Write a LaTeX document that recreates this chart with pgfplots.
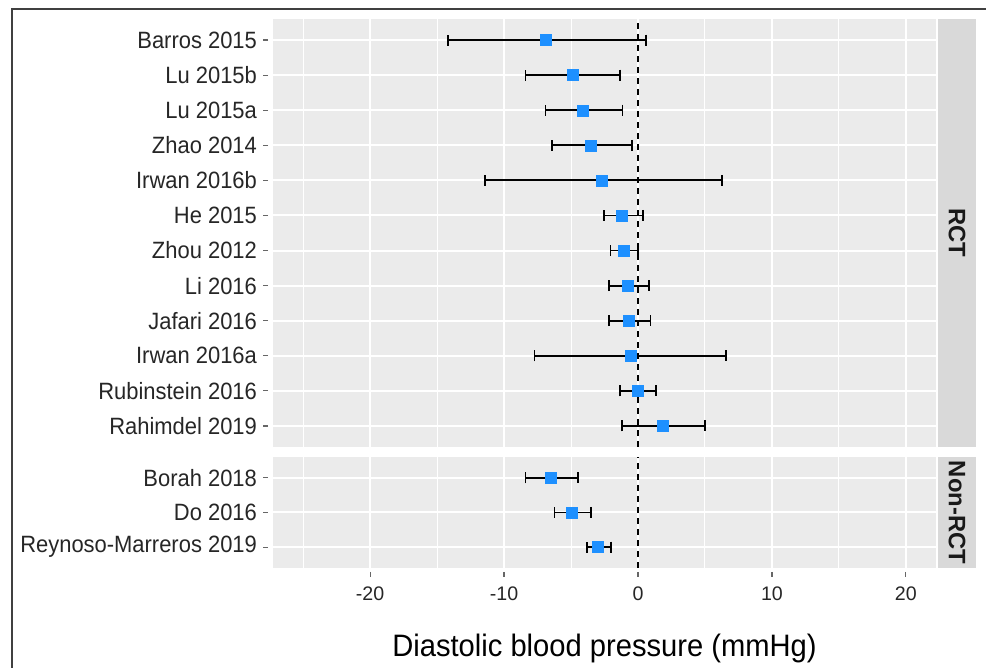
\documentclass[border=0pt]{standalone}
\usepackage{pgfplots}
\pgfplotsset{compat=1.18}
\usepackage{pgfplotstable}
\usepackage{fontspec}
\setmainfont{Liberation Sans}

\definecolor{panelbg}{HTML}{EBEBEB}
\definecolor{stripbg}{HTML}{D9D9D9}
\definecolor{ptblue}{RGB}{30,144,255}
\newcommand\sq[1]{\scalebox{0.93}[1]{#1}}
\tikzset{tk/.style={black!60, line width=0.6pt}}

% row = position from bottom, est = mean difference, lo/hi = 95% CI
\pgfplotstableread{
row est lo hi
12 -6.90 -14.20 0.60
11 -4.90 -8.40 -1.35
10 -4.10 -6.90 -1.15
9 -3.50 -6.45 -0.47
8 -2.68 -11.40 6.27
7 -1.18 -2.53 0.35
6 -1.10 -2.05 0.03
5 -0.80 -2.18 0.80
4 -0.70 -2.15 0.93
3 -0.55 -7.72 6.60
2 0.00 -1.35 1.33
1 1.85 -1.17 4.98
}\rctdata

\pgfplotstableread{
row est lo hi
3 -6.50 -8.40 -4.45
2 -4.94 -6.24 -3.53
1 -2.98 -3.80 -2.03
}\nonrctdata

\pgfplotsset{
  forest/.style={
    scale only axis, width=331.5pt, clip=false,
    xmin=-27.25, xmax=22.25, ymin=0.4,
    xtick={-20,-10,0,10,20},
    minor xtick={-25,-15,-5,5,15},
    grid=both,
    major grid style={white, line width=1pt},
    minor grid style={white, line width=0.5pt},
    axis background/.style={fill=panelbg},
    axis line style={draw=none},
    tick pos=left, tick align=outside,
    major tick length=0pt, minor tick length=0pt,
    yticklabel style={font=\fontsize{11.8}{12}\selectfont, text=black!85, xshift=-4.5pt},
    xticklabel style={font=\fontsize{9.8}{10}\selectfont, text=black!85, yshift=-6pt},
  },
  ci/.style={only marks, mark=none,
    error bars/.cd, x dir=both, x explicit, error mark=|,
    error bar style={black, line width=0.9pt},
    error mark options={black, line width=0.9pt, mark size=2.75pt}},
  pt/.style={only marks, mark=square*, mark size=2.75pt,
    mark options={fill=ptblue, draw=ptblue, line width=0.2pt}},
  zero/.style={black, line width=0.8pt, dash pattern=on 3pt off 2.5pt},
}

\begin{document}
\begin{tikzpicture}[x=1pt, y=1pt]
\useasboundingbox (0,0) rectangle (493,334);
\draw[black!75, line width=0.8pt] (6,0) -- (6,329.5) -- (493,329.5);

\begin{axis}[forest, at={(136.5pt,110.5pt)}, anchor=south west,
    height=214pt, ymax=12.6,
    ytick={1,...,12},
    yticklabels={\sq{Rahimdel 2019},\sq{Rubinstein 2016},\sq{Irwan 2016a},\sq{Jafari 2016},
      \sq{Li 2016},\sq{Zhou 2012},\sq{He 2015},\sq{Irwan 2016b},\sq{Zhao 2014},
      \sq{Lu 2015a},\sq{Lu 2015b},\sq{Barros 2015}},
    xticklabels={}]
  \addplot[zero] coordinates {(0,0.4) (0,12.6)};
  \addplot[ci] table[x=est, y=row,
    x error plus expr=\thisrow{hi}-\thisrow{est},
    x error minus expr=\thisrow{est}-\thisrow{lo}] {\rctdata};
  \addplot[pt] table[x=est, y=row] {\rctdata};
  \pgfplotsinvokeforeach{1,...,12}{
    \draw[tk] ([xshift=-2.5pt]axis cs:-27.25,#1) -- ([xshift=-5pt]axis cs:-27.25,#1);}
\end{axis}

\begin{axis}[forest, at={(136.5pt,50pt)}, anchor=south west,
    height=55.5pt, ymax=3.6,
    ytick={1,2,3},
    yticklabels={\sq{Reynoso-Marreros 2019},\sq{Do 2016},\sq{Borah 2018}},
    xticklabels={-20,-10,0,10,20}]
  \addplot[zero] coordinates {(0,0.4) (0,3.6)};
  \addplot[ci] table[x=est, y=row,
    x error plus expr=\thisrow{hi}-\thisrow{est},
    x error minus expr=\thisrow{est}-\thisrow{lo}] {\nonrctdata};
  \addplot[pt] table[x=est, y=row] {\nonrctdata};
  \pgfplotsinvokeforeach{1,2,3}{
    \draw[tk] ([xshift=-2.5pt]axis cs:-27.25,#1) -- ([xshift=-5pt]axis cs:-27.25,#1);}
  \pgfplotsinvokeforeach{-20,-10,0,10,20}{
    \draw[tk] ([yshift=-2pt]axis cs:#1,0.4) -- ([yshift=-4.5pt]axis cs:#1,0.4);}
\end{axis}

% facet strips
\fill[stripbg] (469,110.5) rectangle (488,324.5);
\fill[stripbg] (469,50) rectangle (488,105.5);
\node[rotate=-90, font=\bfseries\fontsize{11.9}{12}\selectfont, text=black!90]
  at (478.5,217.5) {RCT};
\node[rotate=-90, font=\bfseries\fontsize{11.9}{12}\selectfont, text=black!90]
  at (478.5,77.75) {Non-RCT};

\node[anchor=base, font=\fontsize{15.5}{16}\selectfont]
  at (302.25,5.5) {\scalebox{0.94}[1]{Diastolic blood pressure (mmHg)}};
\end{tikzpicture}
\end{document}
